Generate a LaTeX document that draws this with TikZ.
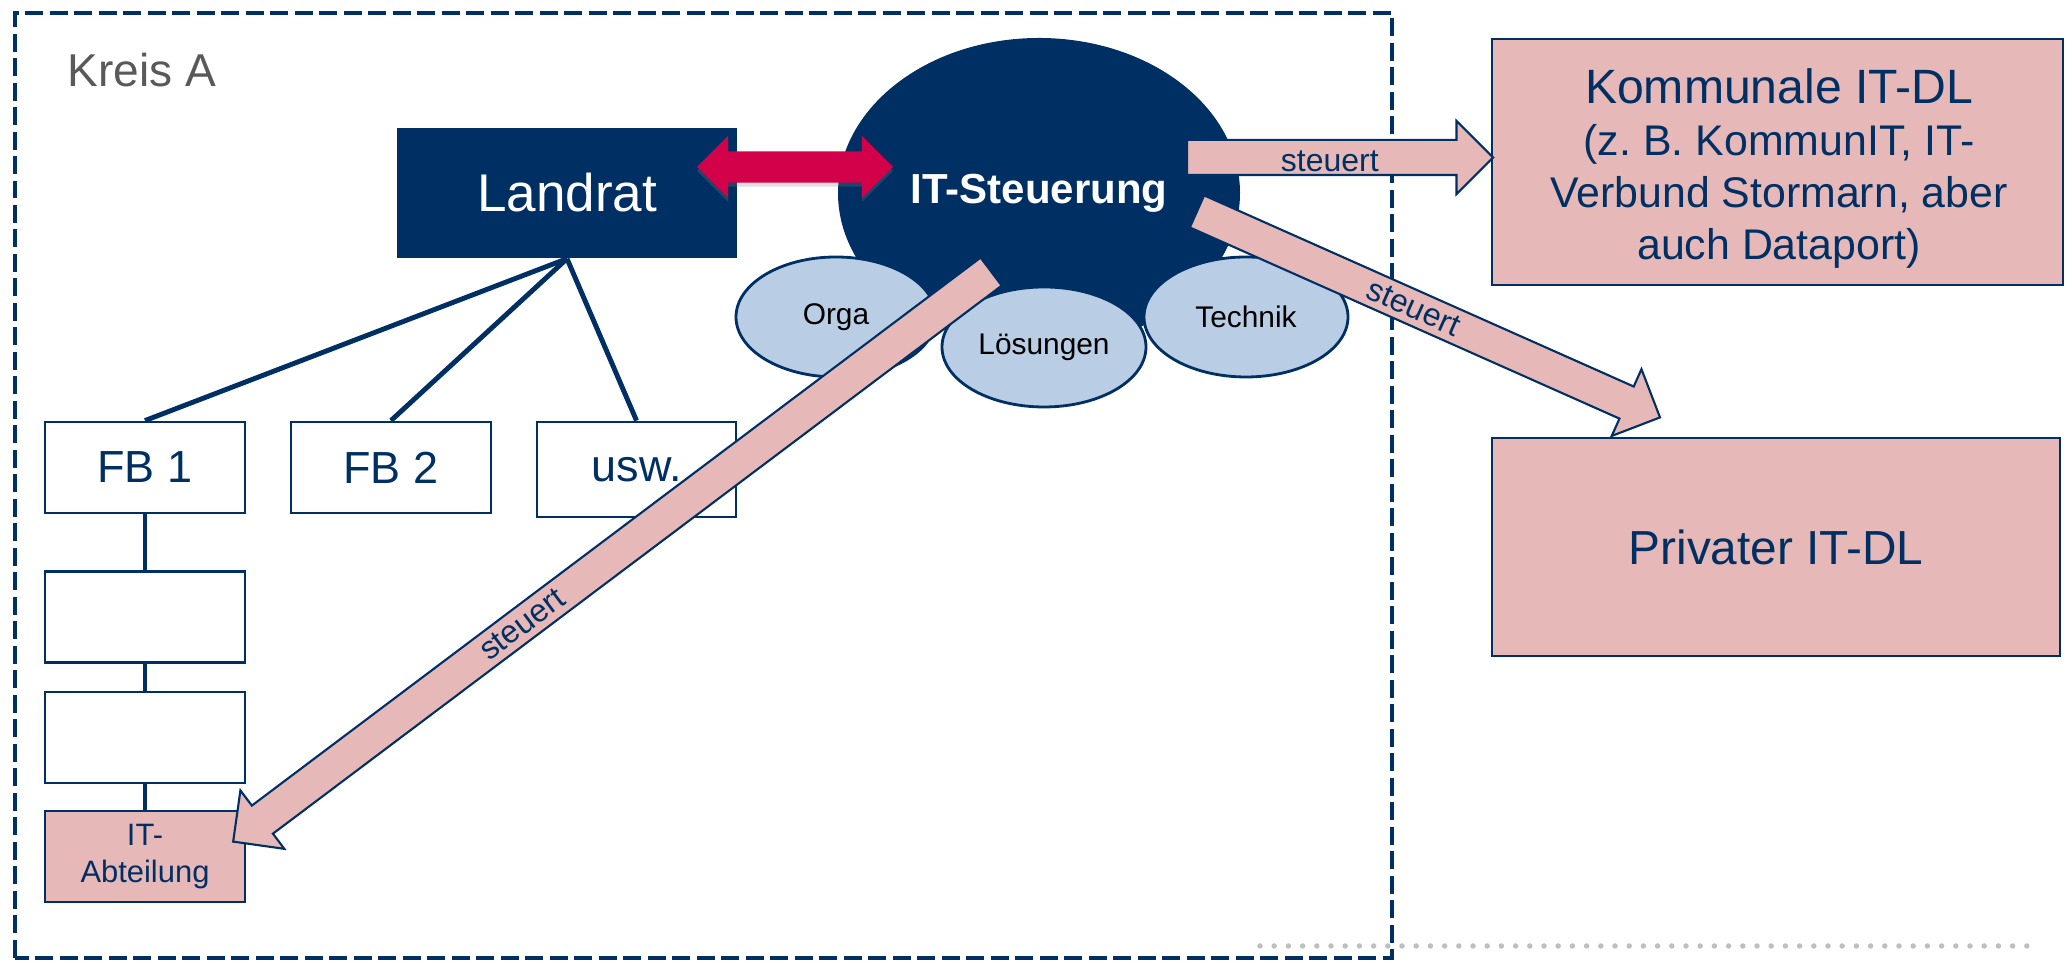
\documentclass[tikz,border=0pt]{standalone}
\usepackage{fontspec}
\setmainfont{Liberation Sans}
\usepackage{tikz}
\usetikzlibrary{shapes.geometric, shapes.arrows, shadows}
\definecolor{dark-blue}{RGB}{0,48,99}
\definecolor{light-blue}{RGB}{185,205,229}
\definecolor{light-pink}{RGB}{230,185,184}
\definecolor{deep-red}{RGB}{211,0,74}
\definecolor{dot-gray}{gray}{0.75}
\definecolor{text-gray}{gray}{0.35}
\frenchspacing
\tikzset{
 fbbox/.style={draw=dark-blue, line width=0.8pt, fill=white, minimum width=2cm, minimum height=0.91cm, inner sep=0pt, text=dark-blue, font=\fontsize{12.8}{15}\selectfont},
 bereich/.style={ellipse, draw=dark-blue, line width=0.8pt, fill=light-blue, minimum height=1.2cm, inner sep=0pt, font=\fontsize{8.5}{10}\selectfont},
 dlbox/.style={draw=dark-blue, line width=0.8pt, fill=light-pink, text=dark-blue, align=center, inner sep=0pt},
 linie/.style={dark-blue, line width=1.4pt},
 blockpfeil/.style={single arrow, draw=dark-blue, line width=0.6pt, fill=light-pink, inner xsep=0pt, inner ysep=0.165cm, single arrow head extend=0.19cm, minimum width=0pt},
 pfeiltext/.style={text=dark-blue, inner sep=0pt, font=\fontsize{9.1}{11}\selectfont},
}

\begin{document}
\begin{tikzpicture}
 \useasboundingbox (0,0) rectangle (20.69,9.62);
 %kreis
 \draw[dark-blue, line width=0.04cm, dash pattern=on 0.18cm off 0.065cm] (0.15,0.04) rectangle (13.92,9.49);
 \draw[dot-gray, line width=0.055cm, line cap=round, dash pattern=on 0pt off 0.142cm] (12.60,0.16) -- (20.33,0.16);
 \node[anchor=base west, inner sep=0pt, text=text-gray, font=\fontsize{13.1}{15}\selectfont] (kreis) at (0.67,8.75) {Kreis A};

 %verwaltung
 \node[fill=dark-blue, minimum width=3.4cm, minimum height=1.3cm, inner sep=0pt, text=white, font=\fontsize{15.1}{18}\selectfont] (landrat) at (5.67,7.69) {Landrat};
 \node[fbbox] (fb1) at (1.45,4.945) {FB 1};
 \node[fbbox] (fb2) at (3.91,4.945) {FB 2};
 \node[fbbox, minimum width=1.99cm, minimum height=0.95cm] (usw) at (6.365,4.925) {usw.};
 \node[fbbox] (fb1b) at (1.45,3.45) {};
 \node[fbbox] (fb1c) at (1.45,2.245) {};
 \node[fbbox, fill=light-pink, align=center, font=\fontsize{8.8}{10.5}\selectfont] (itabt) at (1.45,1.055) {IT-\\Abteilung};
 \draw[linie] (landrat.south) -- (fb1.north);
 \draw[linie] (landrat.south) -- (fb2.north);
 \draw[linie] (landrat.south) -- (usw.north);
 \draw[linie] (fb1) -- (fb1b);
 \draw[linie] (fb1b) -- (fb1c);
 \draw[linie] (fb1c) -- (itabt);

 %it-steuerung
 \node[ellipse, fill=dark-blue, minimum width=4.02cm, minimum height=3.1cm, inner sep=0pt, text=white, font=\bfseries\fontsize{11.95}{14}\selectfont] (itst) at (10.39,7.69) {IT-Steuerung};
 \node[bereich, minimum width=2cm] (orga) at (8.36,6.45) {Orga};
 \node[bereich, minimum width=2.04cm] (loesungen) at (10.44,6.15) {Lösungen};
 \node[bereich, minimum width=2.04cm] (technik) at (12.46,6.45) {Technik};

 %dienstleister
 \node[dlbox, minimum width=5.71cm, minimum height=2.46cm] (kommunal) at (17.775,8.00) {};
 \node[text=dark-blue, align=center, inner sep=0pt, font=\fontsize{12.2}{14.8}\selectfont] (kommunaltext) at (17.79,7.93) {{\fontsize{13.7}{14.8}\selectfont Kommunale IT-DL}\\(z. B. KommunIT, IT-\\Verbund Stormarn, aber\\auch Dataport)};
 \node[dlbox, minimum width=5.68cm, minimum height=2.18cm, font=\fontsize{13.6}{16}\selectfont] (privat) at (17.76,4.15) {Privater IT-DL};

 \node[double arrow, fill=deep-red, minimum height=1.96cm, inner xsep=0pt, inner ysep=0.15cm, double arrow head extend=0.155cm, minimum width=0pt, drop shadow={shadow xshift=0pt, shadow yshift=-0.04cm, opacity=0.25}] (dpfeil) at (7.95,7.95) {};

 %steuert
 \coordinate (k1) at (11.86,8.045);
 \coordinate (k2) at (14.92,8.045);
 \path (k1) -- (k2)
  node[blockpfeil, pos=0, sloped, anchor=tail, minimum height=3.06cm] (pfeil1) {}
  node[pfeiltext, pos=0.47, sloped, yshift=-0.04cm] (text1) {steuert};
 \coordinate (p1) at (11.96,7.51);
 \coordinate (p2) at (16.59,5.45);
 \path (p1) -- (p2)
  node[blockpfeil, pos=0, sloped, anchor=tail, minimum height=5.068cm] (pfeil2) {}
  node[pfeiltext, pos=0.47, sloped] (text2) {steuert};
 \coordinate (a1) at (9.92,6.91);
 \coordinate (a2) at (2.34,1.21);
 \path (a1) -- (a2)
  node[blockpfeil, pos=0, sloped, allow upside down, anchor=tail, minimum height=9.484cm] (pfeil3) {}
  node[pfeiltext, pos=0.62, sloped] (text3) {steuert};
\end{tikzpicture}
\end{document}
